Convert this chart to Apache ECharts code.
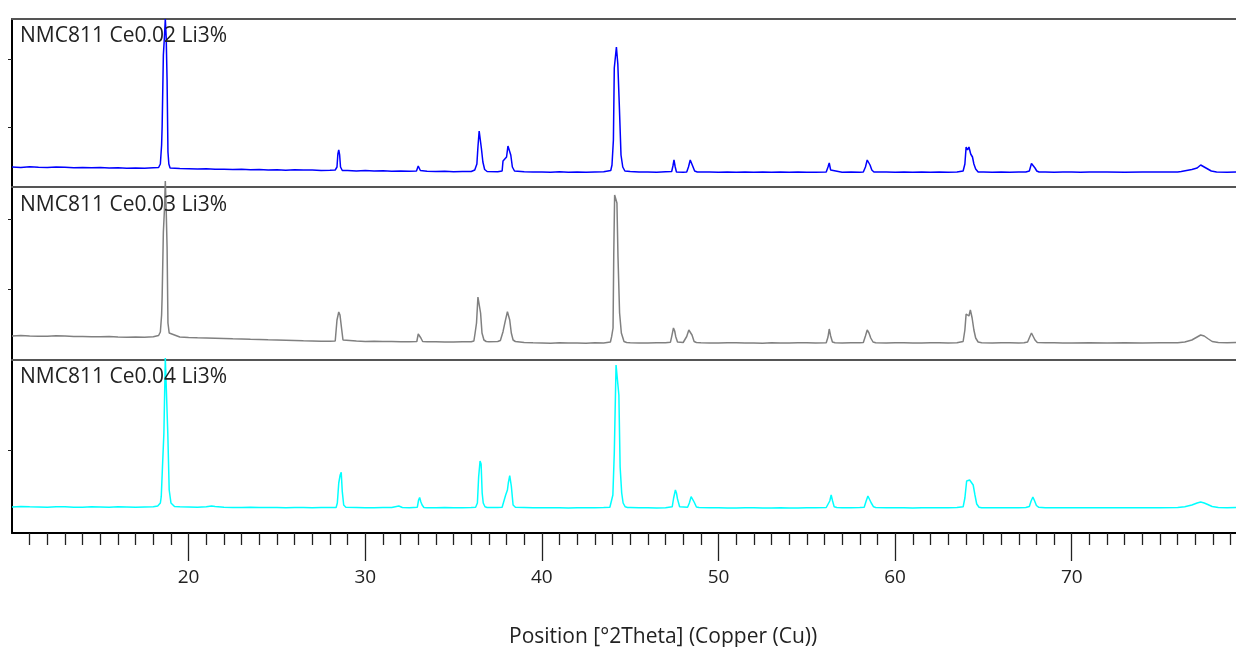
<!DOCTYPE html>
<html>
<head>
<meta charset="utf-8">
<script src="https://cdn.jsdelivr.net/npm/echarts@6/dist/echarts.min.js"></script>
<style>
  html, body { margin: 0; padding: 0; background: #fff; }
  #chart { width: 1236px; height: 647px; }
</style>
</head>
<body>
<div id="chart"></div>
<script>
// sample names, top to bottom
const sampleNames = ['NMC811 Ce0.02 Li3%', 'NMC811 Ce0.03 Li3%', 'NMC811 Ce0.04 Li3%']
const lineColors = ['#0000ff', '#808080', '#00ffff']

// x axis labels (°2Theta)
const majorTicks = [20, 30, 40, 50, 60, 70]

// y tick positions per panel (counts)
const yTicks002 = [600, 1280]
const yTicks003 = [710, 1410]
const yTicks004 = [830]

// [2Theta, counts]
const ce002 = [
  [10.0,200],[10.5,195],[11.0,202],[11.5,198],[12.0,196],[12.5,200],[13.0,197],[13.5,192],[14.0,195],[14.5,193],
  [15.0,195],[15.5,190],[16.0,192],[16.5,188],[17.0,190],[17.5,187],[18.0,192],[18.3,195],[18.4,230],[18.47,420],
  [18.5,600],[18.57,1320],[18.63,1500],[18.68,1680],[18.73,1500],[18.78,1070],[18.83,350],[18.88,230],[18.95,190],
  [19.5,185],[20.0,183],[20.5,180],[21.0,182],[21.5,178],[22.0,178],[22.5,175],[23.0,177],[23.5,172],[24.0,174],
  [24.5,170],[25.0,172],[25.5,168],[26.0,172],[26.5,170],[27.0,170],[27.5,165],[28.0,168],[28.3,170],[28.4,200],
  [28.45,330],[28.5,370],[28.55,320],[28.6,200],[28.7,165],[29.0,165],[29.5,160],[30.0,165],[30.5,160],[31.0,162],
  [31.5,158],[32.0,160],[32.5,158],[32.9,160],[33.0,210],[33.05,230],[33.12,165],[33.5,158],[34.0,155],[34.5,158],
  [35.0,152],[35.5,155],[36.0,155],[36.2,170],[36.32,230],[36.38,400],[36.45,560],[36.5,560],[36.58,380],[36.66,250],
  [36.76,175],[36.9,155],[37.0,155],[37.5,152],[37.75,160],[37.8,260],[37.9,280],[38.0,300],[38.08,410],[38.15,410],
  [38.24,320],[38.33,200],[38.45,160],[39.0,152],[39.5,150],[40.0,150],[40.5,148],[41.0,152],[41.5,148],[42.0,150],
  [42.5,148],[43.0,150],[43.5,152],[43.9,165],[43.97,220],[44.05,470],[44.1,1190],[44.22,1400],[44.3,1230],[44.38,840],
  [44.48,320],[44.58,200],[44.7,160],[45.0,155],[45.5,150],[46.0,150],[46.5,148],[47.0,152],[47.35,155],[47.42,210],
  [47.48,270],[47.55,200],[47.62,150],[48.0,148],[48.2,150],[48.3,200],[48.4,270],[48.48,260],[48.56,200],[48.65,160],
  [48.8,150],[49.5,150],[50.0,148],[50.5,150],[51.0,148],[51.5,150],[52.0,148],[52.5,150],[53.0,148],[53.5,150],
  [54.0,148],[54.5,150],[55.0,148],[55.5,148],[56.1,150],[56.2,200],[56.27,240],[56.35,170],[56.45,150],[57.0,148],
  [57.5,150],[58.0,148],[58.2,150],[58.32,200],[58.42,270],[58.5,250],[58.58,220],[58.68,170],[58.8,150],[59.5,150],
  [60.0,148],[60.5,150],[61.0,148],[61.5,150],[62.0,148],[62.5,150],[63.0,148],[63.5,150],[63.85,160],[63.95,230],
  [64.02,400],[64.1,370],[64.18,400],[64.28,330],[64.38,300],[64.46,230],[64.56,180],[64.7,150],[65.0,150],[65.5,148],
  [66.0,150],[66.5,148],[67.0,150],[67.4,150],[67.6,160],[67.72,235],[67.82,235],[67.92,190],[68.02,160],[68.15,150],
  [68.5,150],[69.0,148],[69.5,150],[70.0,150],[70.5,148],[71.0,150],[72.0,150],[73.0,148],[74.0,150],[75.0,150],
  [76.0,150],[76.2,155],[76.5,165],[76.8,175],[77.1,190],[77.3,220],[77.5,200],[77.7,180],[77.9,160],[78.2,150],
  [78.8,148],[79.3,150]
]

const ce003 = [
  [10.0,240],[10.5,245],[11.0,240],[11.5,238],[12.0,238],[12.5,242],[13.0,240],[13.5,236],[14.0,235],[14.5,233],
  [15.0,232],[15.5,234],[16.0,230],[16.5,228],[17.0,230],[17.5,228],[18.0,232],[18.3,245],[18.4,280],[18.47,450],
  [18.5,630],[18.57,1280],[18.63,1500],[18.68,1790],[18.73,1500],[18.78,1130],[18.83,370],[18.9,270],[19.0,250],
  [19.5,230],[20.0,225],[20.5,222],[21.0,220],[21.5,218],[22.0,215],[22.5,212],[23.0,210],[23.5,207],[24.0,205],
  [24.5,202],[25.0,200],[25.5,198],[26.0,195],[26.5,192],[27.0,190],[27.5,188],[28.0,188],[28.3,190],[28.4,400],
  [28.5,480],[28.57,450],[28.65,330],[28.74,200],[28.85,185],[29.5,190],[30.0,186],[30.5,188],[31.0,185],[31.5,185],
  [32.0,183],[32.5,182],[32.92,185],[33.0,260],[33.08,255],[33.15,220],[33.25,185],[33.5,183],[34.0,182],[34.5,180],
  [35.0,180],[35.5,182],[36.0,182],[36.15,190],[36.22,270],[36.3,370],[36.38,630],[36.47,630],[36.53,470],[36.61,270],
  [36.72,200],[36.85,185],[37.0,183],[37.5,185],[37.65,195],[37.8,283],[37.92,383],[38.05,483],[38.1,480],[38.18,400],
  [38.27,270],[38.37,200],[38.5,185],[39.0,175],[39.5,172],[40.0,170],[40.5,168],[41.0,172],[41.5,170],[42.0,170],
  [42.5,168],[43.0,172],[43.5,170],[43.88,180],[43.95,233],[44.03,320],[44.07,1050],[44.12,1650],[44.2,1650],[44.25,1570],
  [44.31,1030],[44.4,470],[44.5,270],[44.65,185],[44.8,175],[45.0,172],[45.5,170],[46.0,170],[46.5,172],[47.0,172],
  [47.28,178],[47.35,233],[47.45,320],[47.52,290],[47.58,233],[47.68,180],[48.0,175],[48.1,180],[48.2,235],[48.32,300],
  [48.4,290],[48.5,250],[48.62,185],[48.75,175],[49.0,172],[49.5,170],[50.0,170],[50.5,172],[51.0,172],[51.5,170],
  [52.0,170],[52.5,168],[53.0,172],[53.5,170],[54.0,170],[54.5,172],[55.0,172],[55.5,170],[56.1,172],[56.2,230],
  [56.27,310],[56.35,240],[56.45,180],[56.6,172],[57.0,170],[57.5,172],[58.0,172],[58.2,175],[58.32,240],[58.42,300],
  [58.52,270],[58.62,220],[58.75,180],[58.9,172],[59.5,170],[60.0,172],[60.5,172],[61.0,170],[61.5,170],[62.0,172],
  [62.5,172],[63.0,170],[63.5,172],[63.85,185],[63.95,300],[64.02,460],[64.1,480],[64.18,440],[64.26,500],[64.36,420],
  [64.46,300],[64.56,220],[64.7,180],[64.9,172],[65.5,170],[66.0,172],[66.5,172],[67.0,170],[67.3,172],[67.5,180],
  [67.62,230],[67.72,270],[67.82,250],[67.92,200],[68.05,175],[68.5,172],[69.0,172],[69.5,170],[70.0,170],[71.0,172],
  [72.0,170],[73.0,172],[74.0,170],[75.0,172],[76.0,172],[76.4,180],[76.8,200],[77.1,230],[77.3,250],[77.5,240],
  [77.7,215],[77.95,185],[78.3,175],[78.8,172],[79.3,175]
]

const ce004 = [
  [10.0,260],[10.5,265],[11.0,262],[11.5,260],[12.0,258],[12.5,262],[13.0,262],[13.5,258],[14.0,258],[14.5,262],
  [15.0,260],[15.5,258],[16.0,262],[16.5,260],[17.0,258],[17.5,260],[18.0,262],[18.25,270],[18.4,300],[18.45,363],
  [18.52,663],[18.6,1000],[18.68,1750],[18.76,1750],[18.82,1000],[18.9,430],[19.0,300],[19.2,265],[19.5,262],[20.0,260],
  [20.5,258],[21.0,262],[21.3,270],[21.38,290],[21.5,265],[22.0,258],[22.5,255],[23.0,255],[23.5,258],[24.0,255],
  [24.5,255],[25.0,255],[25.5,252],[26.0,255],[26.5,255],[27.0,252],[27.5,255],[28.0,255],[28.35,255],[28.42,300],
  [28.5,500],[28.58,580],[28.64,607],[28.7,413],[28.78,280],[28.9,258],[29.5,255],[30.0,252],[30.5,252],[31.0,255],
  [31.5,255],[31.9,270],[31.95,280],[32.1,255],[32.5,252],[32.95,258],[33.02,330],[33.08,355],[33.15,310],[33.22,280],
  [33.32,255],[33.5,252],[34.0,252],[34.5,255],[35.0,252],[35.5,252],[36.0,255],[36.25,258],[36.35,300],[36.42,560],
  [36.5,720],[36.56,690],[36.62,400],[36.68,300],[36.78,262],[36.9,255],[37.0,255],[37.5,255],[37.75,258],[37.84,273],
  [37.95,380],[38.05,430],[38.1,500],[38.18,573],[38.27,470],[38.37,280],[38.5,258],[39.0,255],[39.5,252],[40.0,252],
  [40.5,252],[41.0,252],[41.5,250],[42.0,252],[42.5,252],[43.0,252],[43.5,255],[43.85,258],[43.94,270],[44.02,380],
  [44.1,800],[44.2,1680],[44.3,1680],[44.36,1380],[44.43,663],[44.52,400],[44.6,300],[44.72,262],[44.85,255],[45.0,255],
  [45.5,252],[46.0,252],[46.5,250],[47.0,252],[47.38,262],[47.46,350],[47.56,430],[47.62,400],[47.68,340],[47.8,262],
  [47.9,255],[48.25,258],[48.35,300],[48.45,363],[48.53,360],[48.62,310],[48.75,260],[48.9,255],[49.5,252],[50.0,252],
  [50.5,250],[51.0,250],[51.5,252],[52.0,252],[52.5,250],[53.0,250],[53.5,252],[54.0,250],[54.5,250],[55.0,252],
  [55.5,252],[56.1,255],[56.2,258],[56.3,320],[56.38,380],[56.46,320],[56.55,262],[56.7,255],[57.0,252],[57.5,252],
  [58.0,255],[58.25,258],[58.36,320],[58.46,370],[58.55,350],[58.65,300],[58.78,262],[58.9,255],[59.5,252],[60.0,252],
  [60.5,252],[61.0,250],[61.5,252],[62.0,252],[62.5,252],[63.0,252],[63.5,255],[63.85,262],[63.95,350],[64.05,520],
  [64.13,540],[64.22,530],[64.32,550],[64.42,480],[64.52,380],[64.62,290],[64.75,258],[64.9,252],[65.5,252],[66.0,252],
  [66.5,252],[67.0,252],[67.4,255],[67.6,265],[67.7,320],[67.8,360],[67.9,320],[68.0,275],[68.12,258],[68.5,252],
  [69.0,252],[69.5,252],[70.0,252],[71.0,252],[72.0,252],[73.0,252],[74.0,252],[75.0,252],[76.0,255],[76.4,262],
  [76.8,280],[77.1,300],[77.3,310],[77.5,300],[77.7,285],[77.95,265],[78.3,255],[78.8,252],[79.3,255]
]

const xMin = 10
const xMax = 79.3
const font = 'Open Sans'

// 1° minor ticks, skipping the labelled ones
const minorTicks = []
for (let v = 11; v <= 79; v++) {
  if (v % 10 !== 0) minorTicks.push(v)
}

const grids = [
  { left: 12, right: 0, top: 19, height: 168 },
  { left: 12, right: 0, top: 187, height: 173 },
  { left: 12, right: 0, top: 360, height: 173 }
]
const yMax = [1680, 1730, 1730]
const yTicks = [yTicks002, yTicks003, yTicks004]
const seriesData = [ce002, ce003, ce004]

const chart = echarts.init(document.getElementById('chart'), null, { renderer: 'canvas' })

// panel top borders, also the axes the series are bound to
const xAxes = grids.map((g, i) => ({
  type: 'value',
  gridIndex: i,
  position: 'top',
  min: xMin,
  max: xMax,
  axisLine: { show: true, onZero: false, lineStyle: { color: '#555', width: 2 } },
  axisTick: { show: false },
  axisLabel: { show: false },
  splitLine: { show: false }
}))

// bottom axis: long ticks + labels
xAxes.push({
  type: 'value',
  gridIndex: 2,
  position: 'bottom',
  min: xMin,
  max: xMax,
  axisLine: { show: true, onZero: false, lineStyle: { color: '#000', width: 2 } },
  axisTick: { show: true, customValues: majorTicks, length: 28, lineStyle: { color: '#222', width: 1.3 } },
  axisLabel: {
    show: true,
    customValues: majorTicks,
    margin: 35,
    fontFamily: font,
    fontSize: 19,
    color: '#222'
  },
  splitLine: { show: false }
})

// bottom axis: short 1° ticks
xAxes.push({
  type: 'value',
  gridIndex: 2,
  position: 'bottom',
  min: xMin,
  max: xMax,
  axisLine: { show: false, onZero: false },
  axisTick: { show: true, customValues: minorTicks, length: 12, lineStyle: { color: '#222', width: 1.3 } },
  axisLabel: { show: false },
  splitLine: { show: false }
})

const yAxes = grids.map((g, i) => ({
  type: 'value',
  gridIndex: i,
  min: 0,
  max: yMax[i],
  axisLine: { show: true, onZero: false, lineStyle: { color: '#000', width: 2 } },
  axisTick: { show: true, customValues: yTicks[i], length: 4, lineStyle: { color: '#222' } },
  axisLabel: { show: false },
  splitLine: { show: false }
}))

const titles = [
  { text: sampleNames[0], left: 20, top: 26 },
  { text: sampleNames[1], left: 20, top: 195 },
  { text: sampleNames[2], left: 20, top: 367 },
  { text: 'Position [°2Theta] (Copper (Cu))', left: 509, top: 627 }
].map(t => Object.assign(t, {
  padding: 0,
  textStyle: { fontFamily: font, fontSize: 21, fontWeight: 'normal', color: '#222' }
}))

const option = {
  animation: false,
  backgroundColor: '#fff',
  title: titles,
  grid: grids,
  xAxis: xAxes,
  yAxis: yAxes,
  series: seriesData.map((d, i) => ({
    name: sampleNames[i],
    type: 'line',
    xAxisIndex: i,
    yAxisIndex: i,
    data: d,
    showSymbol: false,
    clip: false,
    z: 3,
    lineStyle: { color: lineColors[i], width: 1.5 }
  }))
}

chart.setOption(option)
</script>
</body>
</html>
